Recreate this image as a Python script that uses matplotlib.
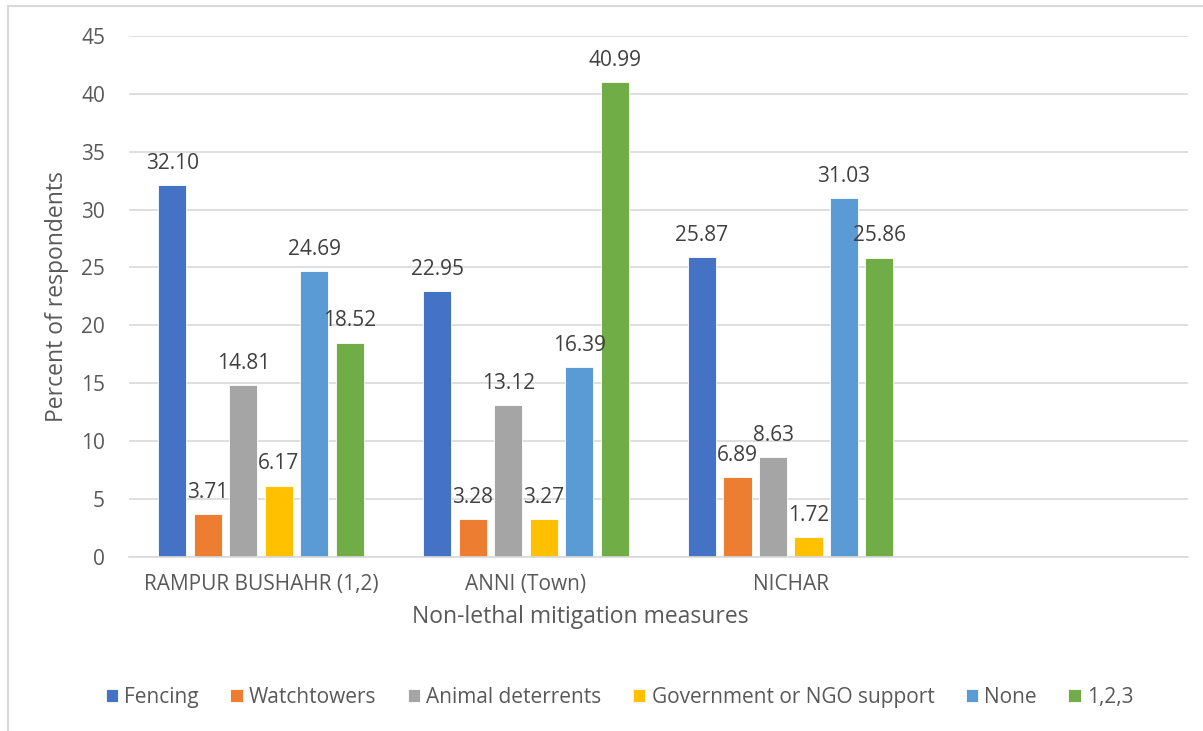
import numpy as np
import matplotlib.pyplot as plt
from matplotlib.lines import Line2D

plt.rcParams['font.family'] = ['Open Sans', 'DejaVu Sans']

sites = ['RAMPUR BUSHAHR (1,2)', 'ANNI (Town)', 'NICHAR', '']
measures = ['Fencing', 'Watchtowers', 'Animal deterrents',
            'Government or NGO support', 'None', '1,2,3']
fencing = [32.10, 22.95, 25.87, np.nan]
watchtowers = [3.71, 3.28, 6.89, np.nan]
deterrents = [14.81, 13.12, 8.63, np.nan]
govt_ngo = [6.17, 3.27, 1.72, np.nan]
none = [24.69, 16.39, 31.03, np.nan]
combined = [18.52, 40.99, 25.86, np.nan]

series = [fencing, watchtowers, deterrents, govt_ngo, none, combined]
colors = ['#4472C4', '#ED7D31', '#A5A5A5', '#FFC000', '#5B9BD5', '#70AD47']
txt = '#595959'

fig = plt.figure(figsize=(12.03, 7.31), dpi=100)
ax = fig.add_axes([0.107, 0.238, 0.8805, 0.713])

x = np.arange(len(sites))
step = 0.134
width = 0.106
for i, (vals, c, lbl) in enumerate(zip(series, colors, measures)):
    pos = x + (i - 2.5) * step
    bars = ax.bar(pos, vals, width, color=c, edgecolor='white', linewidth=0.6, label=lbl)
    labels = ['' if np.isnan(v) else f'{v:.2f}' for v in vals]
    ax.bar_label(bars, labels=labels, padding=8, fontsize=15, color='#404040')

ax.set_xlim(-0.5, 3.5)
ax.set_ylim(0, 45)
ax.set_yticks(range(0, 46, 5))
ax.set_xticks(x)
ax.set_xticklabels(sites)
ax.tick_params(length=0, labelsize=15, colors=txt, pad=12)
ax.tick_params(axis='y', pad=17)
ax.yaxis.grid(True, color='#D9D9D9', linewidth=1.2)
ax.set_axisbelow(True)
for s in ['top', 'right', 'left']:
    ax.spines[s].set_visible(False)
ax.spines['bottom'].set_color('#D9D9D9')
ax.spines['bottom'].set_linewidth(1.2)

ax.set_ylabel('Percent of respondents', fontsize=16.5, color=txt, labelpad=9)
ax.set_xlabel('Non-lethal mitigation measures', fontsize=16.5, color=txt)
# axis title sits under the three populated categories
ax.xaxis.set_label_coords(0.426, -0.093)

handles, lbls = ax.get_legend_handles_labels()
fig.legend(handles, lbls, loc='center', bbox_to_anchor=(0.515, 0.046), ncol=6,
           frameon=False, fontsize=15, labelcolor=txt, handlelength=0.6,
           handleheight=0.6, handletextpad=0.3, columnspacing=1.5)

# chart frame (top and left edges visible)
fig.add_artist(Line2D([8 / 1203, 1.0], [1 - 6 / 731] * 2, color='#D9D9D9', lw=1.5))
fig.add_artist(Line2D([8 / 1203] * 2, [0, 1 - 6 / 731], color='#D9D9D9', lw=1.5))

fig.savefig('out.png', dpi=100)
